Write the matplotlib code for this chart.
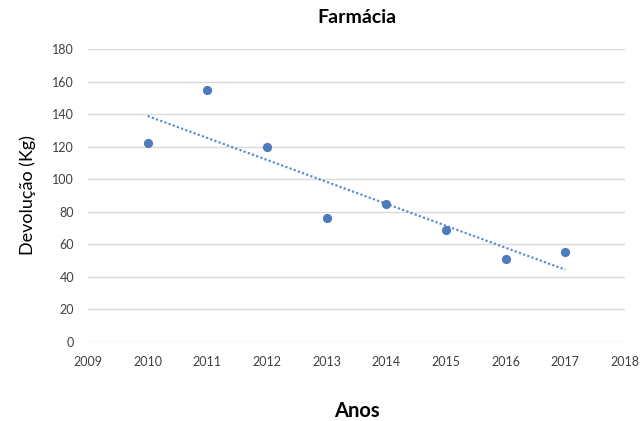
import numpy as np
import matplotlib.pyplot as plt

# Returned medicine weight per year
anos = [2010, 2011, 2012, 2013, 2014, 2015, 2016, 2017]
devolucao = [122, 155, 120, 76, 85, 69, 51, 55]

xticks = list(range(2009, 2019))
yticks = list(range(0, 181, 20))

plt.rcParams['font.family'] = ['Lato', 'DejaVu Sans']

fig = plt.figure(figsize=(6.41, 4.21), dpi=100)
ax = fig.add_axes([88 / 641, 1 - 342 / 421, (625 - 88) / 641, (342 - 49) / 421])

# linear trend line over the observed years
coef = np.polyfit(anos, devolucao, 1)
trend_x = np.array([anos[0], anos[-1]])
ax.plot(trend_x, np.polyval(coef, trend_x), linestyle=(0, (1, 1)),
        color='#5b8ed0', linewidth=1.6, zorder=2)

ax.scatter(anos, devolucao, s=44, color='#4f7bbd', zorder=3, linewidths=0)

ax.set_xlim(2009, 2018)
ax.set_ylim(0, 180)
ax.set_xticks(xticks)
ax.set_yticks(yticks)
ax.grid(axis='y', color='#d9d9d9', linewidth=1)
ax.set_axisbelow(True)
for s in ax.spines.values():
    s.set_visible(False)
ax.tick_params(length=0, labelsize=9, colors='#404040')
ax.tick_params(axis='x', pad=10)
ax.tick_params(axis='y', pad=10)

ax.set_title('Farmácia', fontsize=14, fontweight='bold', pad=19)
ax.set_ylabel('Devolução (Kg)', fontsize=13, labelpad=12)
ax.set_xlabel('Anos', fontsize=14.5, fontweight='bold', labelpad=24)

fig.savefig('out.png', dpi=100)
